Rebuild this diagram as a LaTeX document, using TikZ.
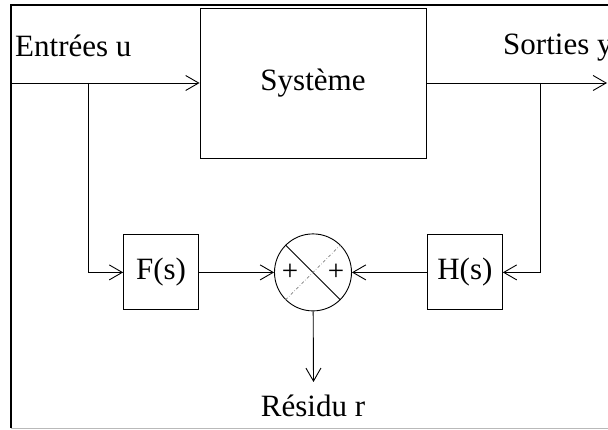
\documentclass[tikz,border=0pt]{standalone}
\usepackage{fontspec}
\setmainfont{Liberation Serif}
\usetikzlibrary{arrows.meta,positioning}

\begin{document}
\begin{tikzpicture}[
  x=1pt, y=-1pt,
  font=\fontsize{31}{36}\selectfont,
  bloc/.style={draw, line width=0.9pt, minimum width=75pt, minimum height=75pt, inner sep=0pt},
  sommateur/.style={draw, circle, line width=0.9pt, minimum size=77pt, inner sep=0pt},
  fleche/.style={-{Straight Barb[length=13pt, width=15pt, line width=0.9pt]}, line width=0.9pt},
  lien/.style={line width=0.9pt},
  etiquette/.style={inner sep=0pt},
  signe/.style={inner sep=0pt, font=\fontsize{29}{32}\selectfont}
]
\useasboundingbox (0,0) rectangle (608,430);

% cadre
\draw[line width=1.6pt] (620,5) -- (11,5) -- (11,428);
\draw[gray!55, line width=1pt] (11,428) -- (620,428);

% blocs
\node[bloc, minimum width=226pt, minimum height=150pt] (systeme) at (313,83) {\raisebox{-3pt}{Système}};
\node[sommateur, below=75pt of systeme] (somme) {};
\node[bloc, left=75pt of somme] (F) {F(s)};
\node[bloc, right=75pt of somme] (H) {H(s)};

\draw[lien] (somme.north west) -- (somme.south east);
\draw[gray, line width=0.6pt, dash dot] (somme.south west) -- (somme.north east);
\node[signe] (plusF) at ([xshift=-23pt]somme.center) {+};
\node[signe] (plusH) at ([xshift=23pt]somme.center) {+};

% textes
\node[etiquette, anchor=base west] (entree) at (15,57) {Entrées u};
\node[etiquette, anchor=base west] (sortie) at (503,55) {Sorties y};
\node[etiquette, anchor=base] (residu) at (313,417) {Résidu r};

% liaisons
\coordinate (gauche) at (11,83);
\coordinate (bu) at (88,83);
\coordinate (by) at (540,83);
\coordinate (fin) at (607,83);
\coordinate (bas) at (313.5,382);

\draw[fleche] (gauche) -- (systeme.west);
\draw[fleche] (systeme.east) -- (fin);
\draw[fleche] (bu) |- (F.west);
\draw[fleche] (by) |- (H.east);
\draw[fleche] (F) -- (somme);
\draw[fleche] (H) -- (somme);
\draw[fleche] (somme) -- (bas);

\end{tikzpicture}
\end{document}
